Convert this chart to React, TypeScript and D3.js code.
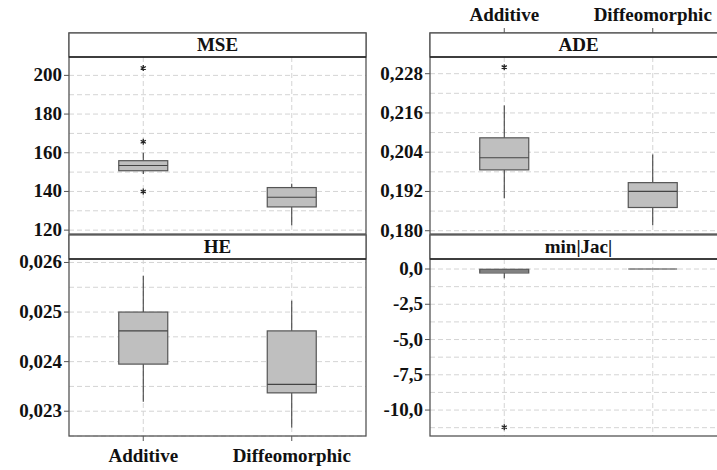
import React from 'react';
import * as d3 from 'd3';

// categories and tick labels
const categories = ['Additive', 'Diffeomorphic'];
const panelTitles = ['MSE', 'ADE', 'HE', 'min|Jac|'];

// five-number summaries per group: [lowWhisker, q1, median, q3, highWhisker]
const mseAdditive = [149, 150.7, 153.4, 155.9, 160];
const mseDiffeo = [122.5, 132, 137, 142, 144];
const mseOutliers = [[203.8, 165.7, 140], []];

const adeAdditive = [0.1899, 0.1986, 0.2023, 0.2084, 0.2183];
const adeDiffeo = [0.1817, 0.1871, 0.192, 0.1947, 0.2033];
const adeOutliers = [[0.23], []];

const heAdditive = [0.02319, 0.02395, 0.02462, 0.025, 0.02573];
const heDiffeo = [0.02267, 0.02337, 0.02354, 0.02462, 0.02523];
const heOutliers = [[], []];

const jacAdditive = [-0.66, -0.28, -0.14, -0.02, 0];
const jacDiffeo = [0, 0, 0, 0, 0];
const jacOutliers = [[-11.22], []];

const mseTicks = [120, 140, 160, 180, 200];
const adeTicks = [0.18, 0.192, 0.204, 0.216, 0.228];
const heTicks = [0.023, 0.024, 0.025, 0.026];
const jacTicks = [0, -2.5, -5, -7.5, -10];

const locale = d3.formatLocale({ decimal: ',', thousands: '.', grouping: [3], currency: ['', ''], minus: '-' });

const txt: React.CSSProperties = {
  fontFamily: "'Liberation Serif', 'DejaVu Serif', 'Times New Roman', serif",
  fontWeight: 'bold',
  fontSize: '19px',
};

type Panel = {
  title: string;
  x0: number;
  y0: number;
  domain: [number, number];
  ticks: number[];
  fmt: string;
  boxes: number[][];
  outliers: number[][];
  bottomAxis: boolean;
  topAxis: boolean;
};

const W = 297;
const STRIP = 24;
const PLOT_H = 177;

const panels: Panel[] = [
  { title: panelTitles[0], x0: 69, y0: 33, domain: [118, 209.5], ticks: mseTicks, fmt: '.0f', boxes: [mseAdditive, mseDiffeo], outliers: mseOutliers, bottomAxis: false, topAxis: false },
  { title: panelTitles[1], x0: 430, y0: 33, domain: [0.179, 0.2331], ticks: adeTicks, fmt: '.3f', boxes: [adeAdditive, adeDiffeo], outliers: adeOutliers, bottomAxis: false, topAxis: true },
  { title: panelTitles[2], x0: 69, y0: 235, domain: [0.0225, 0.02607], ticks: heTicks, fmt: '.3f', boxes: [heAdditive, heDiffeo], outliers: heOutliers, bottomAxis: true, topAxis: false },
  { title: panelTitles[3], x0: 430, y0: 235, domain: [-11.84, 0.71], ticks: jacTicks, fmt: '.1f', boxes: [jacAdditive, jacDiffeo], outliers: jacOutliers, bottomAxis: false, topAxis: false },
];

function Star({ cx, cy }: { cx: number; cy: number }) {
  const r = 3;
  const d = [0, 60, 120].map((a) => {
    const rad = (a * Math.PI) / 180 + Math.PI / 2;
    const dx = r * Math.cos(rad), dy = r * Math.sin(rad);
    return `M${cx - dx},${cy - dy}L${cx + dx},${cy + dy}`;
  }).join('');
  return <path d={d} stroke="#222" strokeWidth={1.3} fill="none" />;
}

function PanelView({ p }: { p: Panel }) {
  const top = p.y0 + STRIP;
  const bottom = top + PLOT_H;
  const x = d3.scaleBand<string>().domain(categories).range([p.x0, p.x0 + W]).padding(0);
  const y = d3.scaleLinear().domain(p.domain).range([bottom, top]);
  const fmt = locale.format(p.fmt);
  const sorted = [...p.ticks].sort((a, b) => a - b);
  const step = sorted[1] - sorted[0];
  const grid: number[] = [];
  for (let v = sorted[0] - step; v <= p.domain[1] + 1e-9; v += step / 2) {
    if (v >= p.domain[0] - 1e-9) grid.push(v);
  }
  const bw = 49;
  return (
    <g>
      {grid.map((g, i) => (
        <line key={'g' + i} x1={p.x0} x2={p.x0 + W} y1={y(g)} y2={y(g)} stroke="#d4d4d4" strokeDasharray="5,3" />
      ))}
      {categories.map((c) => {
        const cx = x(c)! + x.bandwidth() / 2;
        return <line key={'v' + c} x1={cx} x2={cx} y1={top} y2={bottom} stroke="#d4d4d4" strokeDasharray="5,3" />;
      })}
      {p.boxes.map((b, i) => {
        const cx = x(categories[i])! + x.bandwidth() / 2;
        const [lo, q1, med, q3, hi] = b;
        return (
          <g key={'b' + i}>
            <line x1={cx} x2={cx} y1={y(hi)} y2={y(q3)} stroke="#333" />
            <line x1={cx} x2={cx} y1={y(q1)} y2={y(lo)} stroke="#333" />
            <rect x={cx - bw / 2} y={y(q3)} width={bw} height={Math.max(0, y(q1) - y(q3))} fill="#bfbfbf" stroke="#555" strokeWidth={1.2} />
            <line x1={cx - bw / 2} x2={cx + bw / 2} y1={y(med)} y2={y(med)} stroke="#444" strokeWidth={1.2} />
            {p.outliers[i].map((o, j) => <Star key={j} cx={cx} cy={y(o)} />)}
          </g>
        );
      })}
      <rect x={p.x0} y={p.y0} width={W} height={STRIP + PLOT_H} fill="none" stroke="#555" strokeWidth={1.3} />
      <rect x={p.x0} y={p.y0} width={W} height={STRIP} fill="#fff" stroke="#555" strokeWidth={1.3} />
      <line x1={p.x0} x2={p.x0 + W} y1={top} y2={top} stroke="#222" strokeWidth={1.3} />
      <text x={p.x0 + W / 2} y={p.y0 + 18} textAnchor="middle" style={txt} fill="#111">{p.title}</text>
      {p.ticks.map((t) => (
        <g key={'t' + t}>
          <line x1={p.x0 - 5} x2={p.x0} y1={y(t)} y2={y(t)} stroke="#555" />
          <text x={p.x0 - 7} y={y(t) + 6} textAnchor="end" style={txt} fill="#111">{fmt(t)}</text>
        </g>
      ))}
      {p.bottomAxis && categories.map((c) => {
        const cx = x(c)! + x.bandwidth() / 2;
        return (
          <g key={'bx' + c}>
            <line x1={cx} x2={cx} y1={bottom} y2={bottom + 5} stroke="#555" />
            <text x={cx} y={bottom + 26} textAnchor="middle" style={txt} fill="#111">{c}</text>
          </g>
        );
      })}
      {p.topAxis && categories.map((c) => {
        const cx = x(c)! + x.bandwidth() / 2;
        return (
          <g key={'tx' + c}>
            <line x1={cx} x2={cx} y1={p.y0 - 5} y2={p.y0} stroke="#555" />
            <text x={cx} y={p.y0 - 12} textAnchor="middle" style={txt} fill="#111">{c}</text>
          </g>
        );
      })}
    </g>
  );
}

export default function App() {
  return (
    <svg width={717} height={470} style={{ position: 'absolute', left: 0, top: 0, background: '#fff' }}>
      <rect width={717} height={470} fill="#fff" />
      {panels.map((p) => <PanelView key={p.title} p={p} />)}
    </svg>
  );
}
